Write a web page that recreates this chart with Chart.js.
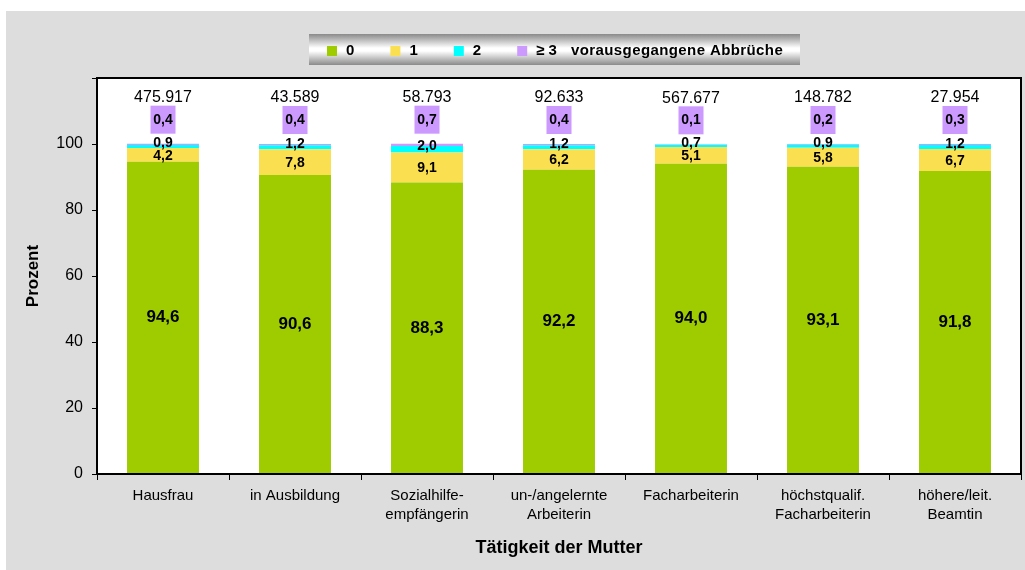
<!DOCTYPE html>
<html lang="de">
<head>
<meta charset="UTF-8">
<title>Vorausgegangene Abbrüche nach Tätigkeit der Mutter</title>
<script src="https://cdn.jsdelivr.net/npm/chart.js"></script>
<style>
    body { margin: 0; background: #fff; }
    canvas { display: block; }
</style>
</head>
<body>
<canvas id="chart" width="1025" height="570"></canvas>
<script>
    // Daten
    const categories = [
        ['Hausfrau'],
        ['in Ausbildung'],
        ['Sozialhilfe-', 'empfängerin'],
        ['un-/angelernte', 'Arbeiterin'],
        ['Facharbeiterin'],
        ['höchstqualif.', 'Facharbeiterin'],
        ['höhere/leit.', 'Beamtin']
    ];
    const seriesNames = ['0', '1', '2', '≥ 3'];
    const abbr0 = [94.6, 90.6, 88.3, 92.2, 94.0, 93.1, 91.8];
    const abbr1 = [4.2, 7.8, 9.1, 6.2, 5.1, 5.8, 6.7];
    const abbr2 = [0.9, 1.2, 2.0, 1.2, 0.7, 0.9, 1.2];
    const abbr3 = [0.4, 0.4, 0.7, 0.4, 0.1, 0.2, 0.3];
    const totals = ['475.917', '43.589', '58.793', '92.633', '567.677', '148.782', '27.954'];
    const yTicks = [0, 20, 40, 60, 80, 100];

    const colors = ['#9ECC00', '#FADF50', '#00FFFF', '#CC99FF'];
    const FONT = '"Liberation Sans", Arial, sans-serif';

    const fmt = v => v.toFixed(1).replace('.', ',');

    const decor = {
        id: 'decor',
        beforeDraw(chart) {
            const ctx = chart.ctx;
            const a = chart.chartArea;
            ctx.save();
            ctx.fillStyle = '#DDDDDD';
            ctx.fillRect(6, 11, chart.width - 6, chart.height - 11);
            ctx.fillStyle = '#FFFFFF';
            ctx.fillRect(a.left, a.top, a.right - a.left, a.bottom - a.top);
            ctx.restore();
        },
        afterDatasetsDraw(chart) {
            const ctx = chart.ctx;
            ctx.save();
            ctx.fillStyle = '#000';
            ctx.textAlign = 'center';
            ctx.textBaseline = 'middle';
            const m0 = chart.getDatasetMeta(0).data;
            const m1 = chart.getDatasetMeta(1).data;
            const m2 = chart.getDatasetMeta(2).data;
            const m3 = chart.getDatasetMeta(3).data;
            categories.forEach((c, i) => {
                // 0
                ctx.font = 'bold 17px ' + FONT;
                ctx.fillText(fmt(abbr0[i]), m0[i].x, (m0[i].y + m0[i].base) / 2);
                // 1
                ctx.font = 'bold 14px ' + FONT;
                ctx.fillText(fmt(abbr1[i]), m1[i].x, (m1[i].y + m1[i].base) / 2 + 1);
                // 2
                ctx.fillText(fmt(abbr2[i]), m2[i].x, (m2[i].y + m2[i].base) / 2 - 3);
                // >= 3 im Kasten
                const by = m3[i].y - 24;
                ctx.fillStyle = colors[3];
                ctx.fillRect(m3[i].x - 12.5, by - 14, 25, 28);
                ctx.fillStyle = '#000';
                ctx.fillText(fmt(abbr3[i]), m3[i].x, by);
                // Fallzahl
                ctx.font = '16px ' + FONT;
                ctx.fillText(totals[i], m3[i].x, m3[i].y - 46);
            });
            ctx.restore();
        },
        afterDraw(chart) {
            const ctx = chart.ctx;
            const a = chart.chartArea;
            ctx.save();
            ctx.strokeStyle = '#000';
            ctx.lineWidth = 2;
            ctx.strokeRect(a.left, a.top, a.right - a.left, a.bottom - a.top);

            // Achsentitel
            ctx.fillStyle = '#000';
            ctx.textAlign = 'center';
            ctx.textBaseline = 'middle';
            ctx.font = 'bold 18px ' + FONT;
            ctx.fillText('Tätigkeit der Mutter', (a.left + a.right) / 2, 548);
            ctx.save();
            ctx.translate(33, (a.top + a.bottom) / 2);
            ctx.rotate(-Math.PI / 2);
            ctx.font = 'bold 17px ' + FONT;
            ctx.fillText('Prozent', 0, 0);
            ctx.restore();

            // Legende
            const lx = 309, ly = 34, lw = 491, lh = 31;
            const g = ctx.createLinearGradient(0, ly, 0, ly + lh);
            g.addColorStop(0, '#8A8A8A');
            g.addColorStop(0.45, '#FFFFFF');
            g.addColorStop(0.55, '#FFFFFF');
            g.addColorStop(1, '#8A8A8A');
            ctx.fillStyle = g;
            ctx.fillRect(lx, ly, lw, lh);
            ctx.textAlign = 'left';
            ctx.font = 'bold 15px ' + FONT;
            seriesNames.forEach((n, i) => {
                const sx = 327 + i * 63.4;
                ctx.fillStyle = colors[i];
                ctx.fillRect(sx, 46, 10, 10);
                ctx.fillStyle = '#000';
                ctx.fillText(n, sx + 19, 51);
            });
            ctx.letterSpacing = '0.4px';
            ctx.fillText('vorausgegangene Abbrüche', 571, 51);
            ctx.restore();
        }
    };

    new Chart(document.getElementById('chart'), {
        type: 'bar',
        data: {
            labels: categories,
            datasets: [abbr0, abbr1, abbr2, abbr3].map((d, i) => ({
                label: seriesNames[i],
                data: d,
                backgroundColor: colors[i],
                borderWidth: 0,
                categoryPercentage: 1,
                barPercentage: 0.545
            }))
        },
        options: {
            responsive: false,
            animation: false,
            layout: { padding: { top: 78, right: 4, left: 0, bottom: 0 } },
            plugins: {
                legend: { display: false },
                tooltip: { enabled: false }
            },
            scales: {
                x: {
                    stacked: true,
                    afterFit: s => { s.height = 96; },
                    grid: {
                        offset: true,
                        drawOnChartArea: false,
                        color: '#000',
                        tickLength: 6,
                        tickWidth: 1
                    },
                    border: { color: '#000', width: 2 },
                    ticks: {
                        color: '#000',
                        font: { family: FONT, size: 15, lineHeight: 1.27 },
                        padding: 6,
                        maxRotation: 0,
                        autoSkip: false
                    }
                },
                y: {
                    stacked: true,
                    min: 0,
                    max: 120,
                    afterFit: s => { s.width = 97; },
                    afterBuildTicks: s => {
                        s.ticks = yTicks.concat([120]).map(v => ({ value: v }));
                    },
                    grid: {
                        drawOnChartArea: false,
                        color: '#000',
                        tickLength: 5,
                        tickWidth: 1
                    },
                    border: { color: '#000', width: 2 },
                    ticks: {
                        color: '#000',
                        font: { family: FONT, size: 16 },
                        padding: 9,
                        callback: v => yTicks.includes(v) ? v : ''
                    }
                }
            }
        },
        plugins: [decor]
    });
</script>
</body>
</html>
